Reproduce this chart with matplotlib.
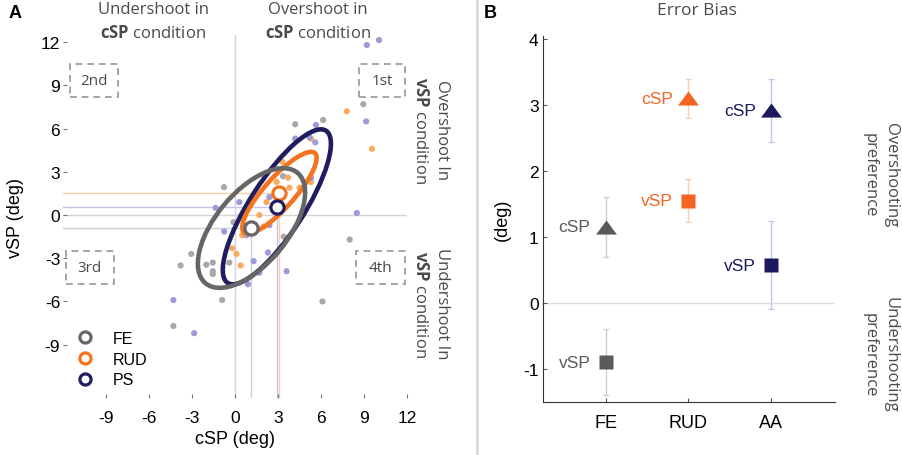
import matplotlib
matplotlib.use("Agg")
import matplotlib.pyplot as plt
import matplotlib.patches as mpatches
from matplotlib.lines import Line2D

plt.rcParams['font.family'] = ['Liberation Sans', 'DejaVu Sans']
plt.rcParams['axes.unicode_minus'] = False
plt.rcParams['mathtext.fontset'] = 'custom'
plt.rcParams['mathtext.rm'] = 'Open Sans'
plt.rcParams['mathtext.bf'] = 'Open Sans:bold'

# ---- panel A: single subject errors (cSP, vSP), deg ----
fe_csp = [-0.77, 4.2, 6.15, 8.95, 3.35, -0.1, 8.0, -3.05, -3.8, -2.0, -1.55,
          -1.55, -0.4, -0.9, 6.1, -4.3, 3.4, -1.55]
fe_vsp = [1.94, 6.3, 6.6, 7.7, 2.7, -0.5, -1.7, -2.7, -3.5, -3.45, -3.3,
          -4.1, -3.3, -5.9, -6.0, -7.7, -1.5, -3.9]

rud_csp = [7.8, 9.55, 5.3, 3.3, 2.9, 3.8, 5.3, 3.7, 2.2, 1.7, 3.3, 0.5,
           -0.2, 0.1, 0.4, 2.0, 4.5]
rud_vsp = [7.2, 4.6, 5.3, 3.7, 2.3, 1.9, 2.3, 2.6, 0.9, 0.0, 1.3, -1.4,
           -2.3, -2.7, -3.5, -0.8, 1.9]

ps_csp = [9.2, 10.05, 9.15, 5.65, 4.2, 5.2, 5.6, -1.35, 0.3, 8.5, 2.4, 2.4,
          5.3, -4.3, -2.85, 3.6, 1.3, 1.7, 0.9, 2.3, -0.75, 0.8]
ps_vsp = [11.8, 12.15, 6.5, 6.25, 5.3, 5.4, 5.05, 0.5, 0.9, 0.14, 1.25, -0.7,
          2.6, -5.9, -8.2, -3.9, -3.2, -4.0, -4.8, -2.6, -1.15, -1.4]

# confidence ellipses (semi axes, tilt in deg)
ell_a = [5.0, 3.7, 6.3]
ell_b = [2.5, 1.05, 1.87]
ell_angle = [50, 48, 57]

# ---- panel B: error bias, mean +- error ----
groups = ['FE', 'RUD', 'AA']
legend_names = ['FE', 'RUD', 'PS']
csp_mean = [1.15, 3.1, 2.92]
csp_err = [0.45, 0.3, 0.48]
vsp_mean = [-0.9, 1.55, 0.57]
vsp_err = [0.5, 0.33, 0.67]

dark = ['#666666', '#f4731f', '#1f1d5e']
mark = ['#5a5a5a', '#f26522', '#1b1a5e']
dots = ['#a8a8a8', '#f9aa5e', '#9d9ad8']
faint = ['#cfcfcf', '#f9cfae', '#c4c4ea']

txt_col = '#4a4a4a'

fig = plt.figure(figsize=(9.02, 4.56), dpi=100)

# ================= panel A =================
ax = fig.add_axes([63 / 902, 57 / 456, 344 / 902, 363 / 456])
ax.set_xlim(-12, 12)
ax.set_ylim(-12.7, 12.5)
for s in ax.spines.values():
    s.set_visible(False)

ax.axvline(0, color='#d4d4d4', lw=1, zorder=1)
ax.axhline(0, color='#d4d4d4', lw=1, zorder=1)

# cross hair lines from the axes to each mean
for i in range(3):
    ax.plot([-12, csp_mean[i]], [vsp_mean[i], vsp_mean[i]], color=faint[i], lw=1, zorder=1)
    ax.plot([csp_mean[i], csp_mean[i]], [-12.7, vsp_mean[i]], color=faint[i], lw=1, zorder=1)

for xs, ys, c in [(fe_csp, fe_vsp, dots[0]), (rud_csp, rud_vsp, dots[1]), (ps_csp, ps_vsp, dots[2])]:
    ax.scatter(xs, ys, s=20, color=c, edgecolors='none', zorder=2)

for i in [2, 1, 0]:
    e = mpatches.Ellipse((csp_mean[i], vsp_mean[i]), 2 * ell_a[i], 2 * ell_b[i],
                         angle=ell_angle[i], fill=False, ec=dark[i], lw=3.3, zorder=3)
    ax.add_patch(e)

for i in range(3):
    ax.plot(csp_mean[i], vsp_mean[i], 'o', ms=9.5, mfc='white', mec=dark[i], mew=2.3, zorder=5)

# quadrant boxes
quads = [('2nd', -11.5, 8.2), ('1st', 8.65, 8.2), ('3rd', -11.8, -4.8), ('4th', 8.45, -4.8)]
for lab, x0, y0 in quads:
    w = 11.86 - x0 if x0 > 0 else 3.35
    r = mpatches.Rectangle((x0, y0), w, 2.3, fill=False, ec='#a5a5a5', lw=1.4,
                           ls=(0, (3.5, 2.5)), clip_on=False, zorder=4)
    ax.add_patch(r)
    ax.text(x0 + w / 2, y0 + 1.15, lab, family='Open Sans', fontsize=11,
            color=txt_col, ha='center', va='center')

ax.set_xticks([-9, -6, -3, 0, 3, 6, 9, 12])
ax.set_yticks([-9, -6, -3, 0, 3, 6, 9, 12])
ax.tick_params(axis='both', direction='in', length=3, color='#777777', labelsize=12.5)
ax.tick_params(axis='x', pad=9)
ax.tick_params(axis='y', pad=2)
ax.set_xlabel('cSP (deg)', fontsize=13, labelpad=3)
ax.set_ylabel('vSP (deg)', fontsize=13, labelpad=12)

handles = [Line2D([], [], ls='none', marker='o', ms=8, mfc='white', mec=dark[i], mew=2.3)
           for i in range(3)]
ax.legend(handles, legend_names, loc='lower left', bbox_to_anchor=(0.0, -0.01),
          frameon=False, fontsize=11.5, handlelength=1.0, handletextpad=1.2,
          labelspacing=0.35)

fig.text(153 / 902, 1 - 22 / 456, 'Undershoot in\n$\\mathbf{cSP}$ condition',
         family='Open Sans', fontsize=12, color=txt_col, ha='center', va='center',
         linespacing=1.5)
fig.text(318 / 902, 1 - 22 / 456, 'Overshoot in\n$\\mathbf{cSP}$ condition',
         family='Open Sans', fontsize=12, color=txt_col, ha='center', va='center',
         linespacing=1.5)
fig.text(431 / 902, 1 - 130 / 456, 'Overshoot In\n$\\mathbf{vSP}$ condition',
         family='Open Sans', fontsize=12, color=txt_col, ha='center', va='center',
         rotation=-90, linespacing=1.45)
fig.text(431 / 902, 1 - 304 / 456, 'Undershoot In\n$\\mathbf{vSP}$ condition',
         family='Open Sans', fontsize=12, color=txt_col, ha='center', va='center',
         rotation=-90, linespacing=1.45)

fig.text(15 / 902, 1 - 13 / 456, 'A', fontsize=13, fontweight='bold', ha='center', va='center')
fig.text(490 / 902, 1 - 13 / 456, 'B', fontsize=13, fontweight='bold', ha='center', va='center')

# panel separator
fig.add_artist(Line2D([477 / 902, 477 / 902], [0, 1], color='#d9d9d9', lw=2))

# ================= panel B =================
bx = fig.add_axes([542.7 / 902, 53.3 / 456, 292.3 / 902, 366 / 456])
bx.set_xlim(0.24, 3.77)
bx.set_ylim(-1.5, 4.05)
bx.spines['top'].set_visible(False)
bx.spines['right'].set_visible(False)
bx.spines['left'].set_color('#333333')
bx.spines['bottom'].set_color('#333333')

bx.axhline(0, color='#dcdce6', lw=1, zorder=1)

xpos = range(1, len(groups) + 1)
tri = [(-1, -0.68), (1, -0.68), (0, 0.68)]
for i, x in enumerate(xpos):
    bx.errorbar(x, csp_mean[i], yerr=csp_err[i], fmt='none', ecolor=faint[i],
                elinewidth=1, capsize=2, zorder=2)
    bx.errorbar(x, vsp_mean[i], yerr=vsp_err[i], fmt='none', ecolor=faint[i],
                elinewidth=1, capsize=2, zorder=2)
    bx.plot(x, csp_mean[i], ls='none', marker=tri, ms=15, color=mark[i], mec='none', zorder=3)
    bx.plot(x, vsp_mean[i], ls='none', marker='s', ms=9.5, color=mark[i], mec='none', zorder=3)
    bx.annotate('cSP', (x, csp_mean[i]), xytext=(-11, 0), textcoords='offset points',
                ha='right', va='center', fontsize=12.5, color=mark[i])
    bx.annotate('vSP', (x, vsp_mean[i]), xytext=(-11, 0), textcoords='offset points',
                ha='right', va='center', fontsize=12.5, color=mark[i])

bx.set_xticks(list(xpos))
bx.set_xticklabels(groups)
bx.set_yticks([-1, 0, 1, 2, 3, 4])
bx.tick_params(axis='both', direction='in', length=3, color='#555555', labelsize=12.5)
bx.tick_params(axis='x', pad=9, labelsize=13)
bx.tick_params(axis='y', pad=3)
bx.set_ylabel('(deg)', fontsize=13, labelpad=9)

fig.text(697 / 902, 1 - 11 / 456, 'Error Bias', family='Open Sans', fontsize=12.5,
         color=txt_col, ha='center', va='center')
fig.text(880 / 902, 1 - 175 / 456, 'Overshooting\npreference', family='Open Sans',
         fontsize=12, color=txt_col, ha='center', va='center', rotation=-90,
         linespacing=1.45)
fig.text(880 / 902, 1 - 355 / 456, 'Undershooting\npreference', family='Open Sans',
         fontsize=12, color=txt_col, ha='center', va='center', rotation=-90,
         linespacing=1.45)

fig.savefig('out.png', dpi=100)
